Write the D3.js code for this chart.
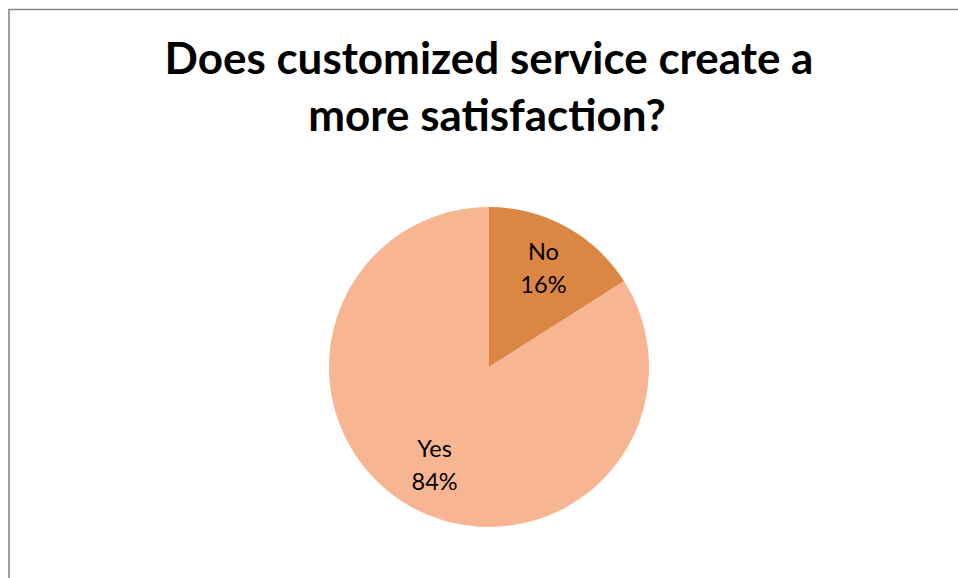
<!DOCTYPE html>
<html>
<head>
<meta charset="utf-8">
<script src="https://cdn.jsdelivr.net/npm/d3@7"></script>
<style>
  html, body { margin: 0; padding: 0; background: #ffffff; }
  svg { display: block; }
</style>
</head>
<body>
<svg id="chart" width="958" height="578"></svg>
<script>
// Survey answers and their shares (percent)
const categories = ["No", "Yes"];
const shares = [16, 84];
const sliceColors = ["#DC8643", "#F8B592"];
const titleLines = ["Does customized service create a", "more satisfaction?"];

const W = 958, H = 578;
const svg = d3.select("#chart");

// chart frame (open on the right and bottom edges of the page)
svg.append("path")
  .attr("d", `M9,${H + 2}V9.5H${W + 2}`)
  .attr("fill", "none")
  .attr("stroke", "#868686")
  .attr("stroke-width", 1.6);

// title, sized so the first line spans the chart's title width
const titleFont = "Lato, 'Open Sans', sans-serif";
const title = svg.append("text")
  .attr("text-anchor", "middle")
  .attr("font-family", titleFont)
  .attr("font-weight", 700)
  .attr("fill", "#000000");
const t1 = title.append("tspan").attr("x", 489).attr("y", 74).text(titleLines[0]);
title.attr("font-size", 40);
const w40 = t1.node().getComputedTextLength();
const titleSize = 40 * 649 / w40;
title.attr("font-size", titleSize);
title.append("tspan").attr("x", 487).attr("y", 131).text(titleLines[1]);

// pie
const cx = 489, cy = 367, R = 160;
const color = d3.scaleOrdinal().domain(categories).range(sliceColors);
const data = categories.map((c, i) => ({ label: c, value: shares[i] }));
const pie = d3.pie().value(d => d.value).sort(null);
const arc = d3.arc().innerRadius(0).outerRadius(R);
const labelArc = d3.arc().innerRadius(R * 0.706).outerRadius(R * 0.706);

const g = svg.append("g").attr("transform", `translate(${cx},${cy})`);
const arcs = pie(data);

g.selectAll("path.slice")
  .data(arcs)
  .join("path")
  .attr("class", "slice")
  .attr("d", arc)
  .attr("fill", d => color(d.data.label));

const total = d3.sum(shares);
const labels = g.selectAll("text.lbl")
  .data(arcs)
  .join("text")
  .attr("class", "lbl")
  .attr("text-anchor", "middle")
  .attr("font-family", "Lato, 'Open Sans', sans-serif")
  .attr("font-size", 23.5)
  .attr("fill", "#000000")
  .attr("transform", d => {
    const [x, y] = labelArc.centroid(d);
    return `translate(${x},${y})`;
  });
labels.append("tspan").attr("x", 0).attr("y", -8.5).text(d => d.data.label);
labels.append("tspan").attr("x", 0).attr("y", 24.5)
  .text(d => Math.round(d.data.value / total * 100) + "%");
</script>
</body>
</html>
